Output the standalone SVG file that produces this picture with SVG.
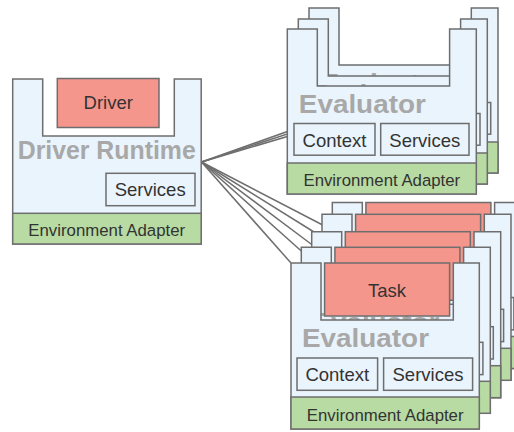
<svg xmlns="http://www.w3.org/2000/svg" width="514" height="432" viewBox="0 0 514 432">
<style>
.body{fill:#EAF4FC;stroke:#6E6E6E;stroke-width:1.5}
.box{fill:#EAF4FC;stroke:#6E6E6E;stroke-width:1.5}
.env{fill:#B7DBA2;stroke:#6E6E6E;stroke-width:1.5}
.red{fill:#F5968C;stroke:#6E6E6E;stroke-width:1.5}
.t{font-family:"Liberation Sans",Arial,sans-serif;font-size:18.5px;fill:#333;text-anchor:middle}
.te{font-family:"Liberation Sans",Arial,sans-serif;font-size:16.8px;fill:#333;text-anchor:middle}
.big{font-family:"Liberation Sans",Arial,sans-serif;font-size:25px;font-weight:bold;fill:#A8A8A8}
.conn line{stroke:#6E6E6E;stroke-width:1.5;fill:none}
</style>
<rect width="514" height="432" fill="#fff"/>
<g id="connectors" class="conn">
<line x1="201.5" y1="162" x2="300" y2="127"/>
<line x1="201.5" y1="162" x2="300" y2="129.9"/>
<line x1="201.5" y1="162" x2="300" y2="132.7"/>
<line x1="201.5" y1="162" x2="332.3" y2="230"/>
<line x1="201.5" y1="162" x2="322" y2="237"/>
<line x1="201.5" y1="162" x2="311.7" y2="244.5"/>
<line x1="201.5" y1="162" x2="301.3" y2="251"/>
<line x1="201.5" y1="162" x2="291" y2="263"/>
</g>
<g id="eval-top-3" transform="translate(309,8)">
<path class="body" d="M0,0H30V57H162.3V0H189V165H0Z"/>
<text class="big" x="11.5" y="83.5" textLength="127" lengthAdjust="spacingAndGlyphs">Evaluator</text>
<rect class="box" x="6.7" y="94.5" width="81" height="31.7"/><text class="t" x="47.2" y="117.5">Context</text>
<rect class="box" x="93.4" y="94.5" width="88.3" height="31.7"/><text class="t" x="137.5" y="117.5">Services</text>
<rect class="env" x="0" y="134" width="189" height="31"/><text class="te" x="94.5" y="157">Environment Adapter</text>
</g>
<g id="eval-top-2" transform="translate(298.3,19)">
<path class="body" d="M0,0H30V57H162.3V0H189V165H0Z"/>
<text class="big" x="11.5" y="83.5" textLength="127" lengthAdjust="spacingAndGlyphs">Evaluator</text>
<rect class="box" x="6.7" y="94.5" width="81" height="31.7"/><text class="t" x="47.2" y="117.5">Context</text>
<rect class="box" x="93.4" y="94.5" width="88.3" height="31.7"/><text class="t" x="137.5" y="117.5">Services</text>
<rect class="env" x="0" y="134" width="189" height="31"/><text class="te" x="94.5" y="157">Environment Adapter</text>
</g>
<g id="eval-top-1" transform="translate(287.3,29)">
<path class="body" d="M0,0H30V57H162.3V0H189V165H0Z"/>
<text class="big" x="11.5" y="83.5" textLength="127" lengthAdjust="spacingAndGlyphs">Evaluator</text>
<rect class="box" x="6.7" y="94.5" width="81" height="31.7"/><text class="t" x="47.2" y="117.5">Context</text>
<rect class="box" x="93.4" y="94.5" width="88.3" height="31.7"/><text class="t" x="137.5" y="117.5">Services</text>
<rect class="env" x="0" y="134" width="189" height="31"/><text class="te" x="94.5" y="157">Environment Adapter</text>
</g>
<g id="driver-runtime" transform="translate(12.7,79)">
<path class="body" d="M0,0H30V57H161.6V0H188.5V165H0Z"/>
<rect id="driver" class="red" x="44.6" y="-0.5" width="101.7" height="49"/><text class="t" x="95.5" y="30">Driver</text>
<text class="big" x="94" y="80" text-anchor="middle" textLength="178" lengthAdjust="spacingAndGlyphs">Driver Runtime</text>
<rect class="box" x="93.3" y="94.3" width="89" height="32.4"/><text class="t" x="137.5" y="117">Services</text>
<rect class="env" x="0" y="134.3" width="188.5" height="30.7"/><text class="te" x="94" y="156.5">Environment Adapter</text>
</g>
<g id="eval-bot-5" transform="translate(332.3,202.5)">
<path class="body" d="M0,0H30V57H162.3V0H189V166H0Z"/>
<text class="big" x="11" y="83.5" textLength="127" lengthAdjust="spacingAndGlyphs">Evaluator</text>
<rect class="box" x="6" y="95" width="80.6" height="32.3"/><text class="t" x="46.3" y="117.5">Context</text>
<rect class="box" x="92.6" y="95" width="89" height="32.3"/><text class="t" x="137" y="117.5">Services</text>
<rect class="env" x="0" y="134" width="189" height="32"/><text class="te" x="94.5" y="157.5">Environment Adapter</text>
<rect class="red" x="33.6" y="0" width="125" height="53"/><text class="t" x="96" y="34">Task</text>
</g>
<g id="eval-bot-4" transform="translate(322,214.3)">
<path class="body" d="M0,0H30V57H162.3V0H189V166H0Z"/>
<text class="big" x="11" y="83.5" textLength="127" lengthAdjust="spacingAndGlyphs">Evaluator</text>
<rect class="box" x="6" y="95" width="80.6" height="32.3"/><text class="t" x="46.3" y="117.5">Context</text>
<rect class="box" x="92.6" y="95" width="89" height="32.3"/><text class="t" x="137" y="117.5">Services</text>
<rect class="env" x="0" y="134" width="189" height="32"/><text class="te" x="94.5" y="157.5">Environment Adapter</text>
<rect class="red" x="33.6" y="0" width="125" height="53"/><text class="t" x="96" y="34">Task</text>
</g>
<g id="eval-bot-3" transform="translate(311.7,231.7)">
<path class="body" d="M0,0H30V57H162.3V0H189V166H0Z"/>
<text class="big" x="11" y="83.5" textLength="127" lengthAdjust="spacingAndGlyphs">Evaluator</text>
<rect class="box" x="6" y="95" width="80.6" height="32.3"/><text class="t" x="46.3" y="117.5">Context</text>
<rect class="box" x="92.6" y="95" width="89" height="32.3"/><text class="t" x="137" y="117.5">Services</text>
<rect class="env" x="0" y="134" width="189" height="32"/><text class="te" x="94.5" y="157.5">Environment Adapter</text>
<rect class="red" x="33.6" y="0" width="125" height="53"/><text class="t" x="96" y="34">Task</text>
</g>
<g id="eval-bot-2" transform="translate(301.3,247.3)">
<path class="body" d="M0,0H30V57H162.3V0H189V166H0Z"/>
<text class="big" x="11" y="83.5" textLength="127" lengthAdjust="spacingAndGlyphs">Evaluator</text>
<rect class="box" x="6" y="95" width="80.6" height="32.3"/><text class="t" x="46.3" y="117.5">Context</text>
<rect class="box" x="92.6" y="95" width="89" height="32.3"/><text class="t" x="137" y="117.5">Services</text>
<rect class="env" x="0" y="134" width="189" height="32"/><text class="te" x="94.5" y="157.5">Environment Adapter</text>
<rect class="red" x="33.6" y="0" width="125" height="53"/><text class="t" x="96" y="34">Task</text>
</g>
<g id="eval-bot-1" transform="translate(291,263)">
<path class="body" d="M0,0H30V57H162.3V0H188.3V166H0Z"/>
<text class="big" x="11" y="83.5" textLength="127" lengthAdjust="spacingAndGlyphs">Evaluator</text>
<rect class="box" x="6" y="95" width="80.6" height="32.3"/><text class="t" x="46.3" y="117.5">Context</text>
<rect class="box" x="92.6" y="95" width="89" height="32.3"/><text class="t" x="137" y="117.5">Services</text>
<rect class="env" x="0" y="134" width="188.3" height="32"/><text class="te" x="94.2" y="157.5">Environment Adapter</text>
<rect class="red" x="33.6" y="0" width="125" height="53"/><text class="t" x="96" y="34">Task</text>
</g>
</svg>
